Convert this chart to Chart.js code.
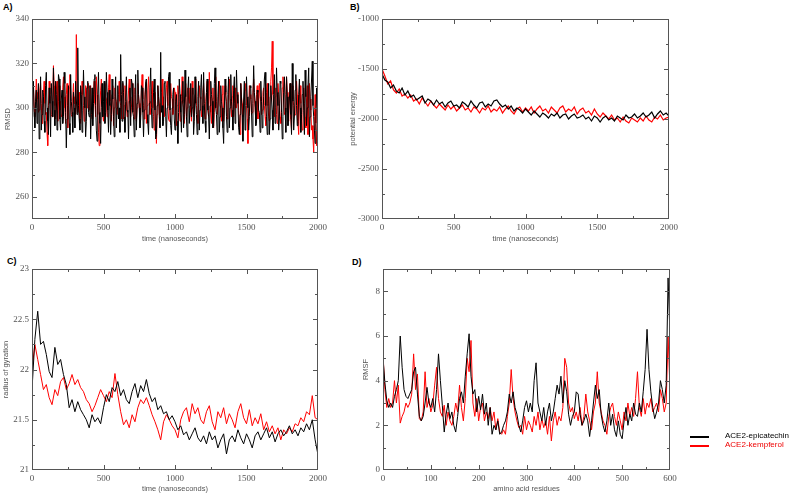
<!DOCTYPE html>
<html>
<head>
<meta charset="utf-8">
<script src="https://cdn.jsdelivr.net/npm/chart.js@4"></script>
<style>
  body { margin: 0; background: #fff; width: 789px; height: 497px; overflow: hidden; position: relative; }
  canvas { position: absolute; }
  .lbl { position: absolute; font: bold 9px "Liberation Sans", Arial, sans-serif; color: #000; }
  .leg { position: absolute; font: 8px "Liberation Sans", Arial, sans-serif; white-space: nowrap; }
  .leg i { position: absolute; left: 0; top: 4px; width: 19px; height: 2px; }
  .leg span { position: absolute; left: 35px; top: -1px; }
</style>
</head>
<body>
<div class="lbl" style="left:3px;top:2px">A)</div>
<div class="lbl" style="left:350px;top:2px">B)</div>
<div class="lbl" style="left:7px;top:256px">C)</div>
<div class="lbl" style="left:352px;top:257px">D)</div>

<canvas id="chartA" width="390" height="250" style="left:0;top:0"></canvas>
<canvas id="chartB" width="350" height="250" style="left:340px;top:0"></canvas>
<canvas id="chartC" width="390" height="247" style="left:0;top:250px"></canvas>
<canvas id="chartD" width="350" height="247" style="left:340px;top:250px"></canvas>

<div class="leg" style="left:690px;top:432px;color:#000"><i style="background:#000"></i><span>ACE2-epicatechin</span></div>
<div class="leg" style="left:690px;top:441px;color:#e00"><i style="background:#f00"></i><span>ACE2-kempferol</span></div>

<script>
// --- datos ---
const seriesNames = ["ACE2-epicatechin", "ACE2-kempferol"];

// A) RMSD, cada 5 ns
const stepA = 5;
const rmsdBlack = [
  296, 305, 312, 298, 291, 303, 308, 293, 300, 311, 286, 299, 314, 290, 297, 308, 305, 294, 289, 310,
  316, 300, 294, 288, 309, 302, 287, 311, 303, 296, 318, 299, 292, 312, 306, 290, 299, 315, 313, 295,
  290, 304, 308, 293, 296, 316, 311, 298, 282, 295, 301, 310, 293, 288, 315, 303, 298, 289, 307, 300,
  291, 312, 304, 297, 327, 301, 295, 290, 310, 306, 289, 299, 317, 305, 300, 287, 294, 309, 312, 298,
  296, 310, 286, 297, 309, 292, 302, 313, 315, 301, 290, 285, 306, 316, 298, 293, 284, 300, 311, 296,
  303, 312, 293, 298, 316, 307, 299, 289, 308, 301, 288, 297, 313, 304, 296, 287, 305, 314, 291, 300,
  310, 295, 300, 289, 324, 306, 294, 312, 307, 296, 289, 303, 314, 299, 298, 286, 303, 309, 292, 313,
  311, 298, 296, 287, 306, 315, 290, 302, 317, 306, 300, 291, 295, 310, 309, 298, 287, 299, 304, 312,
  313, 297, 293, 288, 302, 309, 318, 300, 291, 297, 307, 313, 299, 286, 288, 301, 310, 305, 296, 291,
  325, 298, 301, 292, 294, 311, 312, 296, 287, 300, 305, 314, 316, 299, 292, 288, 300, 306, 309, 295,
  290, 303, 306, 294, 284, 298, 313, 306, 298, 289, 303, 312, 291, 297, 317, 305, 296, 287, 308, 314,
  293, 301, 311, 296, 300, 309, 288, 294, 314, 302, 297, 288, 305, 312, 290, 299, 309, 315, 301, 293,
  316, 302, 294, 289, 307, 313, 299, 296, 286, 301, 312, 306, 303, 291, 292, 311, 318, 300, 297, 288,
  305, 312, 289, 296, 310, 303, 300, 291, 284, 299, 313, 307, 296, 289, 306, 314, 291, 300, 315, 303,
  299, 290, 308, 314, 293, 300, 317, 306, 302, 291, 288, 297, 311, 304, 297, 285, 304, 312, 290, 301,
  314, 305, 300, 290, 296, 310, 309, 298, 287, 302, 319, 307, 303, 292, 293, 308, 307, 299, 298, 289,
  312, 303, 291, 297, 305, 313, 316, 301, 296, 288, 302, 311, 288, 295, 310, 304, 299, 290, 306, 315,
  293, 300, 318, 307, 301, 290, 295, 312, 311, 298, 286, 296, 307, 314, 300, 289, 314, 305, 292, 299,
  304, 311, 297, 288, 320, 303, 290, 296, 308, 315, 301, 292, 294, 306, 313, 300, 289, 297, 306, 312,
  299, 288, 317, 305, 292, 300, 310, 318, 287, 296, 305, 313, 321, 301, 296, 290, 284, 293, 309, 301,
  298
];
const rmsdRed = [
  301, 306, 309, 300, 296, 304, 313, 307, 304, 298, 299, 308, 311, 302, 293, 300, 307, 312, 302, 297,
  298, 289, 283, 301, 312, 306, 305, 297, 296, 303, 319, 310, 301, 295, 308, 312, 294, 303, 310, 299,
  303, 296, 297, 309, 314, 305, 300, 293, 306, 311, 291, 300, 309, 315, 302, 297, 296, 304, 311, 302,
  305, 297, 333, 308, 298, 303, 307, 295, 293, 302, 312, 306, 301, 294, 296, 310, 309, 300, 304, 311,
  299, 305, 310, 298, 295, 302, 306, 312, 302, 296, 314, 306, 297, 289, 283, 300, 308, 313, 301, 297,
  294, 303, 311, 305, 304, 296, 298, 309, 315, 303, 300, 294, 306, 310, 292, 300, 309, 304, 303, 297,
  297, 306, 312, 303, 301, 295, 307, 311, 295, 301, 310, 304, 303, 296, 299, 308, 313, 302, 296, 300,
  305, 311, 300, 295, 309, 303, 294, 300, 311, 306, 302, 296, 297, 308, 315, 304, 301, 295, 306, 310,
  293, 301, 308, 314, 303, 297, 298, 306, 312, 300, 296, 290, 307, 302, 284, 297, 310, 305, 302, 296,
  299, 307, 313, 300, 305, 296, 296, 303, 309, 312, 301, 295, 294, 302, 311, 305, 304, 297, 298, 309,
  307, 299, 292, 301, 310, 306, 303, 294, 297, 305, 314, 302, 300, 293, 305, 311, 295, 300, 309, 304,
  302, 309, 298, 294, 312, 306, 296, 301, 306, 313, 301, 297, 293, 302, 310, 305, 304, 296, 299, 307,
  311, 300, 295, 303, 307, 312, 302, 296, 316, 305, 298, 293, 304, 309, 291, 298, 309, 314, 303, 297,
  297, 306, 312, 301, 300, 294, 306, 310, 294, 301, 310, 306, 303, 295, 298, 307, 313, 304, 301, 296,
  305, 310, 296, 302, 309, 300, 300, 306, 307, 299, 293, 288, 311, 305, 302, 296, 297, 303, 308, 311,
  301, 295, 284, 300, 310, 306, 304, 297, 298, 307, 313, 304, 300, 294, 306, 310, 295, 301, 311, 305,
  303, 297, 299, 307, 309, 301, 296, 292, 307, 311, 301, 296, 294, 305, 312, 318, 330, 306, 300, 296,
  305, 309, 297, 293, 311, 306, 302, 296, 293, 300, 309, 314, 304, 297, 298, 306, 314, 307, 300, 294,
  306, 311, 295, 290, 310, 304, 301, 296, 297, 305, 312, 306, 293, 288, 307, 310, 302, 294, 290, 298,
  309, 302, 296, 291, 304, 310, 288, 296, 311, 304, 299, 290, 292, 286, 280, 296, 306, 293, 283, 291,
  299
];

// B) energía potencial, cada 20 ns
const stepB = 20;
const energyBlack = [
  -1550, -1610, -1630, -1690, -1660, -1720, -1740, -1690, -1760, -1720,
  -1780, -1760, -1810, -1790, -1770, -1840, -1800, -1820, -1860, -1810,
  -1850, -1830, -1880, -1840, -1820, -1870, -1860, -1890, -1830, -1850,
  -1880, -1820, -1860, -1890, -1840, -1830, -1880, -1850, -1870, -1820,
  -1810, -1850, -1880, -1860, -1900, -1870, -1920, -1890, -1910, -1940,
  -1900, -1930, -1960, -1920, -1950, -1980, -1940, -1960, -1990, -1950,
  -1970, -1940, -1990, -1960, -1950, -2000, -1970, -1950, -1990, -1980,
  -1960, -2000, -1980, -2020, -1970, -1990, -2030, -1990, -1970, -2010,
  -1990, -2020, -1970, -1990, -2010, -1960, -1990, -1980, -1950, -1990,
  -1970, -1940, -1980, -1960, -1930, -1990, -1950, -1920, -1960, -1940,
  -1970
];
const energyRed = [
  -1500, -1570, -1650, -1620, -1710, -1740, -1700, -1770, -1750, -1790,
  -1760, -1820, -1800, -1850, -1790, -1830, -1870, -1820, -1860, -1890,
  -1850, -1880, -1910, -1860, -1900, -1870, -1920, -1890, -1860, -1910,
  -1890, -1930, -1880, -1900, -1940, -1890, -1910, -1870, -1930, -1900,
  -1920, -1880, -1940, -1900, -1870, -1920, -1950, -1900, -1880, -1930,
  -1890, -1920, -1880, -1940, -1900, -1870, -1920, -1900, -1940, -1880,
  -1910, -1940, -1890, -1870, -1930, -1900, -1920, -1880, -1950, -1910,
  -1890, -1940, -1920, -1960, -1900, -1950, -1980, -1940, -1970, -2000,
  -1960, -2010, -1990, -2030, -1980, -2020, -2040, -1990, -2010, -2030,
  -1990, -2020, -1970, -2010, -2030, -1980, -2000, -1960, -2010, -1990,
  -1980
];

// C) radio de giro, cada 20 ns
const stepC = 20;
const gyrBlack = [
  21.80, 22.30, 22.58, 22.25, 22.28, 22.15, 21.98, 21.92, 22.22, 22.05,
  22.10, 21.95, 21.85, 21.62, 21.70, 21.58, 21.68, 21.60, 21.55, 21.50,
  21.42, 21.55, 21.48, 21.52, 21.46, 21.62, 21.75, 21.68, 21.82, 21.78,
  21.88, 21.74, 21.80, 21.70, 21.66, 21.78, 21.86, 21.72, 21.84, 21.78,
  21.90, 21.76, 21.68, 21.72, 21.60, 21.64, 21.56, 21.58, 21.50, 21.54,
  21.48, 21.40, 21.44, 21.35, 21.38, 21.30, 21.36, 21.42, 21.32, 21.28,
  21.34, 21.26, 21.38, 21.30, 21.34, 21.22, 21.30, 21.36, 21.16, 21.30,
  21.34, 21.28, 21.40, 21.32, 21.26, 21.36, 21.30, 21.22, 21.34, 21.38,
  21.30, 21.36, 21.42, 21.32, 21.38, 21.28, 21.36, 21.40, 21.34, 21.38,
  21.44, 21.36, 21.40, 21.34, 21.42, 21.38, 21.46, 21.40, 21.50, 21.30,
  21.15
];
const gyrRed = [
  22.00, 22.25, 22.10, 21.95, 21.80, 21.85, 21.72, 21.65, 21.80, 21.74,
  21.88, 21.92, 21.80, 21.86, 21.95, 21.85, 21.90, 21.82, 21.78, 21.70,
  21.66, 21.58, 21.64, 21.72, 21.80, 21.74, 21.68, 21.78, 21.72, 21.96,
  21.75, 21.58, 21.45, 21.50, 21.42, 21.55, 21.48, 21.62, 21.70, 21.66,
  21.72, 21.64, 21.55, 21.48, 21.40, 21.30, 21.48, 21.55, 21.50, 21.44,
  21.40, 21.32, 21.50, 21.58, 21.62, 21.48, 21.66, 21.56, 21.62, 21.50,
  21.46, 21.58, 21.64, 21.48, 21.40, 21.58, 21.52, 21.62, 21.46, 21.56,
  21.50, 21.42, 21.58, 21.66, 21.52, 21.46, 21.60, 21.44, 21.52, 21.46,
  21.56, 21.40, 21.48, 21.38, 21.44, 21.36, 21.42, 21.30, 21.40, 21.36,
  21.42, 21.38, 21.46, 21.44, 21.52, 21.48, 21.58, 21.55, 21.74, 21.52,
  21.50
];

// D) RMSF, cada 4 residuos
const stepD = 4;
const rmsfBlack = [
  5.0, 3.9, 3.1, 2.8, 3.0, 2.8, 3.3, 3.6, 4.0, 6.0,
  4.6, 3.6, 3.3, 3.2, 3.4, 3.6, 4.4, 4.6, 3.4, 2.4,
  2.2, 2.4, 3.0, 3.7, 3.0, 2.8, 3.2, 2.6, 3.6, 5.2,
  4.0, 2.9, 1.7, 2.5, 3.0, 2.3, 2.6, 2.0, 1.7, 2.4,
  3.2, 3.5, 3.0, 4.2, 5.2, 6.1, 4.2, 3.4, 3.6, 2.6,
  3.3, 2.7, 3.4, 2.5, 3.0, 2.0, 2.8, 1.6, 2.0, 1.8,
  2.2, 1.6, 1.7, 2.0, 2.2, 2.6, 3.4, 3.0, 3.5, 2.8,
  2.5, 2.0, 1.7, 2.2, 2.8, 3.1, 2.6, 3.0, 2.6, 4.0,
  4.8, 3.0, 2.6, 2.2, 2.8, 2.0, 2.6, 3.0, 2.2, 2.6,
  3.2, 3.8, 3.4, 4.2, 3.0, 4.0, 3.5, 2.5, 2.0, 2.4,
  2.6, 3.5, 3.4, 2.5, 2.0, 2.2, 2.5, 2.2, 1.5, 2.2,
  3.0, 3.8, 3.2, 3.6, 2.5, 2.0, 1.7, 2.2, 3.0, 2.0,
  2.5, 1.8, 1.5, 2.2, 1.6, 1.4, 2.2, 2.8, 2.0, 2.5,
  2.2, 3.0, 2.5, 2.4, 3.0, 2.6, 3.5, 4.5, 6.3, 4.5,
  3.5, 2.8, 2.3, 2.6, 3.0, 4.0, 3.6, 3.0, 3.8, 8.6,
  6.0
];
const rmsfRed = [
  5.2, 3.6, 2.8, 3.2, 2.8, 3.0, 4.0, 3.0, 3.8, 2.1,
  2.4, 2.6, 3.0, 2.8, 3.0, 3.4, 5.2, 3.6, 4.3, 2.3,
  2.2, 2.6, 4.4, 2.8, 3.2, 2.6, 2.9, 3.8, 4.6, 3.2,
  2.6, 2.4, 2.9, 2.0, 2.6, 2.2, 2.0, 2.4, 3.0, 2.6,
  3.8, 2.8, 2.2, 3.2, 5.0, 4.4, 5.8, 3.0, 2.4, 3.2,
  2.2, 2.8, 3.0, 2.2, 2.6, 2.3, 2.8, 2.2, 2.6, 1.8,
  2.3, 1.7, 1.6, 1.8, 1.6, 2.4, 3.0, 4.5, 3.2, 2.6,
  2.2, 1.9, 2.0, 1.6, 2.4, 1.8, 2.2, 2.0, 1.7, 2.4,
  2.0, 2.6, 1.8, 2.3, 1.9, 2.2, 1.6, 2.4, 1.3, 2.2,
  2.6, 2.0, 2.4, 2.2, 2.8, 5.0, 4.6, 3.0, 2.6, 2.8,
  2.3, 2.6, 2.2, 2.8, 2.0, 2.4, 3.4, 2.6, 2.2, 1.8,
  2.6, 3.0, 4.4, 3.0, 2.6, 2.2, 2.0, 1.6, 2.4, 2.8,
  3.0, 2.4, 2.0, 2.6, 2.2, 1.8, 2.6, 2.2, 3.0, 2.4,
  2.8, 2.4, 3.2, 4.4, 2.8, 2.4, 3.2, 2.5, 3.0, 2.8,
  3.2, 2.6, 2.8, 3.0, 2.6, 3.6, 3.2, 2.6, 3.0, 6.0,
  3.6
];

// marcas de los ejes
const timeTicks = [0, 500, 1000, 1500, 2000];
const residueTicks = [0, 100, 200, 300, 400, 500, 600];
const rmsdTicks = [260, 280, 300, 320, 340];
const energyTicks = [-3000, -2500, -2000, -1500, -1000];
const gyrTicks = [21, 21.5, 22, 22.5, 23];
const rmsfTicks = [0, 2, 4, 6, 8];

// marco con marcas hacia dentro, estilo xmgrace
const frameTicks = {
  id: "frameTicks",
  afterDraw(chart, args, o) {
    const { ctx, chartArea: a, scales: { x, y } } = chart;
    ctx.save();
    ctx.strokeStyle = "#555";
    ctx.lineWidth = 1;
    ctx.strokeRect(Math.round(a.left) + 0.5, Math.round(a.top) + 0.5,
                   Math.round(a.width) - 1, Math.round(a.height) - 1);
    const isMajor = (v, m) => Math.abs(v / m - Math.round(v / m)) < 1e-6;
    ctx.beginPath();
    let n = Math.round((x.max - x.min) / o.xMinor);
    for (let i = 1; i < n; i++) {
      const v = x.min + i * o.xMinor;
      const px = Math.round(x.getPixelForValue(v)) + 0.5;
      const len = isMajor(v, o.xMajor) ? 5 : 3;
      ctx.moveTo(px, a.bottom); ctx.lineTo(px, a.bottom - len);
      ctx.moveTo(px, a.top); ctx.lineTo(px, a.top + len);
    }
    n = Math.round((y.max - y.min) / o.yMinor);
    for (let i = 1; i < n; i++) {
      const v = y.min + i * o.yMinor;
      const py = Math.round(y.getPixelForValue(v)) + 0.5;
      const len = isMajor(v, o.yMajor) ? 5 : 3;
      ctx.moveTo(a.left, py); ctx.lineTo(a.left + len, py);
      ctx.moveTo(a.right, py); ctx.lineTo(a.right - len, py);
    }
    ctx.stroke();
    ctx.restore();
  }
};

Chart.defaults.font.family = "'Liberation Serif', 'Times New Roman', serif";
Chart.defaults.color = "#555";

function toPoints(values, step) {
  return values.map((v, i) => ({ x: i * step, y: v }));
}

function makePanel(id, cfg) {
  const ctx = document.getElementById(id).getContext("2d");
  return new Chart(ctx, {
    type: "line",
    data: {
      datasets: [
        { label: seriesNames[0], data: toPoints(cfg.black, cfg.step), borderColor: "#000" },
        { label: seriesNames[1], data: toPoints(cfg.red, cfg.step), borderColor: "#ff0000" }
      ]
    },
    options: {
      responsive: false,
      animation: false,
      events: [],
      elements: {
        line: { borderWidth: cfg.lineWidth || 1, tension: 0, fill: false },
        point: { radius: 0 }
      },
      layout: { padding: { left: 0, right: cfg.padRight, top: 19, bottom: 0 } },
      plugins: {
        legend: { display: false },
        tooltip: { enabled: false },
        frameTicks: cfg.frame
      },
      scales: {
        x: {
          type: "linear",
          min: cfg.xMin, max: cfg.xMax,
          grid: { display: false, drawTicks: false },
          border: { display: false },
          afterBuildTicks: s => { s.ticks = cfg.xTicks.map(v => ({ value: v })); },
          afterFit: s => { s.height = cfg.xHeight; },
          ticks: { font: { size: 9 }, padding: 3, maxRotation: 0, callback: v => String(v) },
          title: {
            display: true, text: cfg.xTitle, color: "#555",
            font: { family: "'Liberation Sans', Arial, sans-serif", size: 7.5 },
            padding: { top: 0, bottom: cfg.xTitlePad }
          }
        },
        y: {
          min: cfg.yMin, max: cfg.yMax,
          grid: { display: false, drawTicks: false },
          border: { display: false },
          afterBuildTicks: s => { s.ticks = cfg.yTicks.map(v => ({ value: v })); },
          afterFit: s => { s.width = cfg.yWidth; },
          ticks: { font: { size: 9 }, padding: 3, callback: v => String(v) },
          title: {
            display: true, text: cfg.yTitle, color: "#555",
            font: { family: "'Liberation Sans', Arial, sans-serif", size: 7.5 },
            padding: { top: cfg.yTitlePad, bottom: 0 }
          }
        }
      }
    },
    plugins: [frameTicks]
  });
}

makePanel("chartA", {
  black: rmsdBlack, red: rmsdRed, step: stepA,
  xMin: 0, xMax: 2000, yMin: 250, yMax: 340,
  xTicks: timeTicks, yTicks: rmsdTicks,
  xTitle: "time (nanoseconds)", yTitle: "RMSD",
  padRight: 72, xHeight: 31, yWidth: 32, xTitlePad: 6.5, yTitlePad: 3,
  frame: { xMajor: 500, xMinor: 250, yMajor: 20, yMinor: 10 }
});

makePanel("chartB", {
  black: energyBlack, red: energyRed, step: stepB, lineWidth: 1.2,
  xMin: 0, xMax: 2000, yMin: -3000, yMax: -1000,
  xTicks: timeTicks, yTicks: energyTicks,
  xTitle: "time (nanoseconds)", yTitle: "potential energy",
  padRight: 21, xHeight: 31, yWidth: 42, xTitlePad: 6.5, yTitlePad: 8.5,
  frame: { xMajor: 500, xMinor: 250, yMajor: 500, yMinor: 250 }
});

makePanel("chartC", {
  black: gyrBlack, red: gyrRed, step: stepC,
  xMin: 0, xMax: 2000, yMin: 21, yMax: 23,
  xTicks: timeTicks, yTicks: gyrTicks,
  xTitle: "time (nanoseconds)", yTitle: "radius of gyration",
  padRight: 72, xHeight: 27, yWidth: 32, xTitlePad: 3.5, yTitlePad: 1.5,
  frame: { xMajor: 500, xMinor: 250, yMajor: 0.5, yMinor: 0.25 }
});

makePanel("chartD", {
  black: rmsfBlack, red: rmsfRed, step: stepD,
  xMin: 0, xMax: 600, yMin: 0, yMax: 9,
  xTicks: residueTicks, yTicks: rmsfTicks,
  xTitle: "amino acid residues", yTitle: "RMSF",
  padRight: 20, xHeight: 27, yWidth: 43, xTitlePad: 3.5, yTitlePad: 21.5,
  frame: { xMajor: 100, xMinor: 50, yMajor: 2, yMinor: 1 }
});
</script>
</body>
</html>
